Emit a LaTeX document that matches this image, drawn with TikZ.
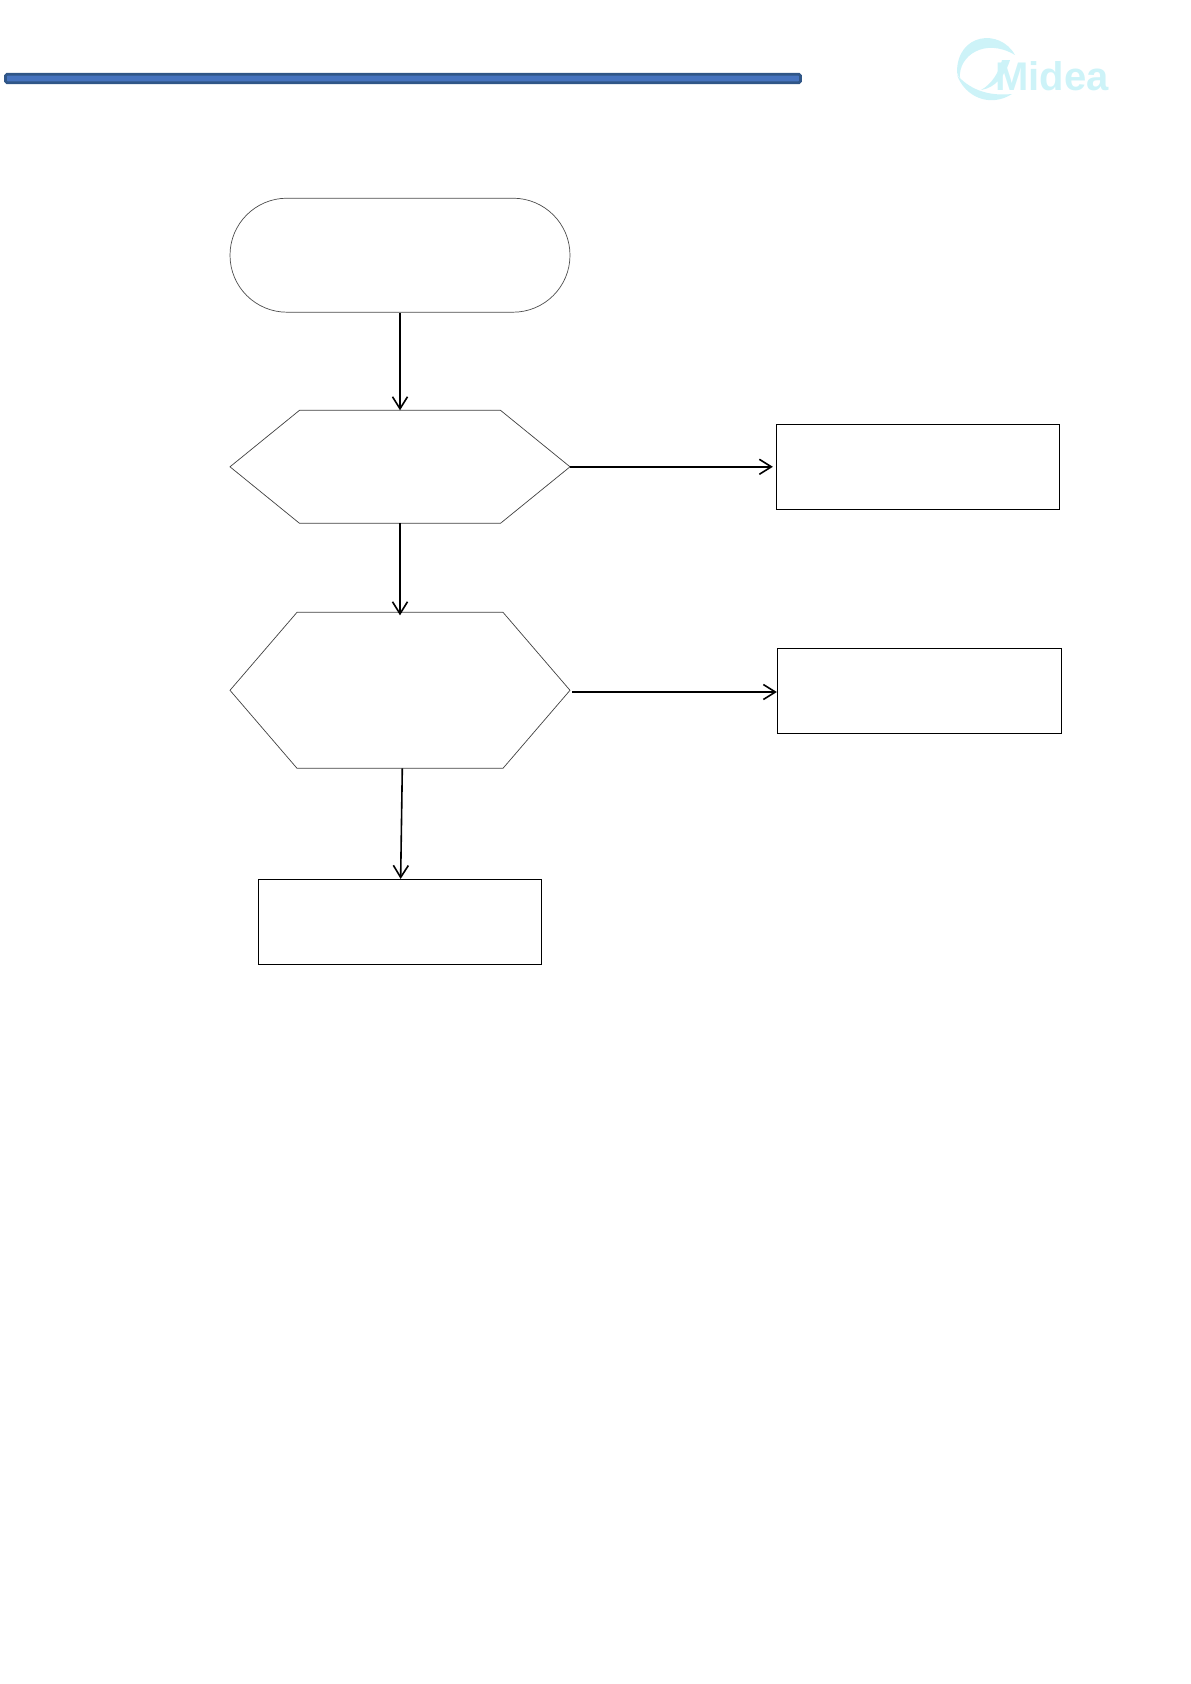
\documentclass[tikz,border=0pt]{standalone}
\usepackage{fontspec}
\setsansfont{Liberation Sans}
\usepackage{tikz}
\usetikzlibrary{arrows.meta,shapes.misc}
\definecolor{barblue}{RGB}{70,115,190}
\definecolor{bardark}{RGB}{48,86,135}
\definecolor{logocyan}{RGB}{205,243,248}
\tikzset{
  >={Straight Barb[length=12pt,width=15pt,line width=1.6pt]},
  flowline/.style={draw,->,line width=1.6pt},
  startbox/.style={draw=black!70,line width=0.7pt,rounded rectangle,minimum width=340pt,minimum height=114pt,inner sep=0pt},
  hexbox/.style={draw=none,rectangle,minimum width=340pt,inner sep=0pt,outer sep=0pt},
  hexline/.style={draw=black!75,line width=0.7pt},
  actionbox/.style={draw,line width=0.8pt,rectangle,minimum width=283.5pt,minimum height=85pt,inner sep=0pt},
}
\newcommand{\hexoutline}[2]{\draw[hexline] (#1.west) -- ([xshift=#2]#1.north west) -- ([xshift=-#2]#1.north east) -- (#1.east) -- ([xshift=-#2]#1.south east) -- ([xshift=#2]#1.south west) -- cycle;}
\begin{document}
\begin{tikzpicture}[x=1pt,y=-1pt]
        \useasboundingbox (0,0) rectangle (1191,1684);
        \node[draw=bardark,fill=barblue,line width=2.6pt,rounded corners=1.5pt,minimum width=795pt,minimum height=8.5pt,inner sep=0pt] (bar) at (403,78.5) {};
        \node[startbox] (start) at (400,255.2) {};
        \node[hexbox,minimum height=113pt] (checka) at (400,466.8) {};
        \hexoutline{checka}{69.5pt}
        \node[hexbox,minimum height=156pt] (checkb) at (400,690.3) {};
        \hexoutline{checkb}{67pt}
        \node[actionbox] (acta) at (918,466.8) {};
        \node[actionbox,minimum width=284.5pt] (actb) at (919.5,690.8) {};
        \node[actionbox] (actc) at (400,921.8) {};
        \path[draw,flowline] (start) -- (checka);
        \path[draw,flowline,shorten >=-3pt] (checka) -- (checkb);
        \path[draw,flowline,shorten >=3pt] (checka) -- (acta);
        \coordinate (outb) at (572,692);
        \path[draw,flowline] (outb) -- (outb -| actb.west);
        \coordinate (outc) at (402.3,768.3);
        \path[draw,flowline] (outc) -- (actc);
        % logo
        \node[text=logocyan,font=\sffamily\bfseries\fontsize{40}{40}\selectfont,inner sep=0pt,anchor=base west] (logo) at (995,90) {Midea};
        \fill[logocyan] (1015,55) .. controls (1000,28) and (957,33) .. (957,72) .. controls (957,74) and (958,76) .. (960,78) .. controls (958,56) and (985,37) .. (1015,55) -- cycle;
        \fill[logocyan] (957,75) .. controls (965,97) and (990,108) .. (1012,94) .. controls (992,96) and (972,92) .. (957,75) -- cycle;
        \fill[logocyan] (981,90) .. controls (992,84) and (999,72) .. (1002,60) -- (1010,60) .. controls (1005,76) and (995,88) .. (981,90) -- cycle;
    \end{tikzpicture}
\end{document}
